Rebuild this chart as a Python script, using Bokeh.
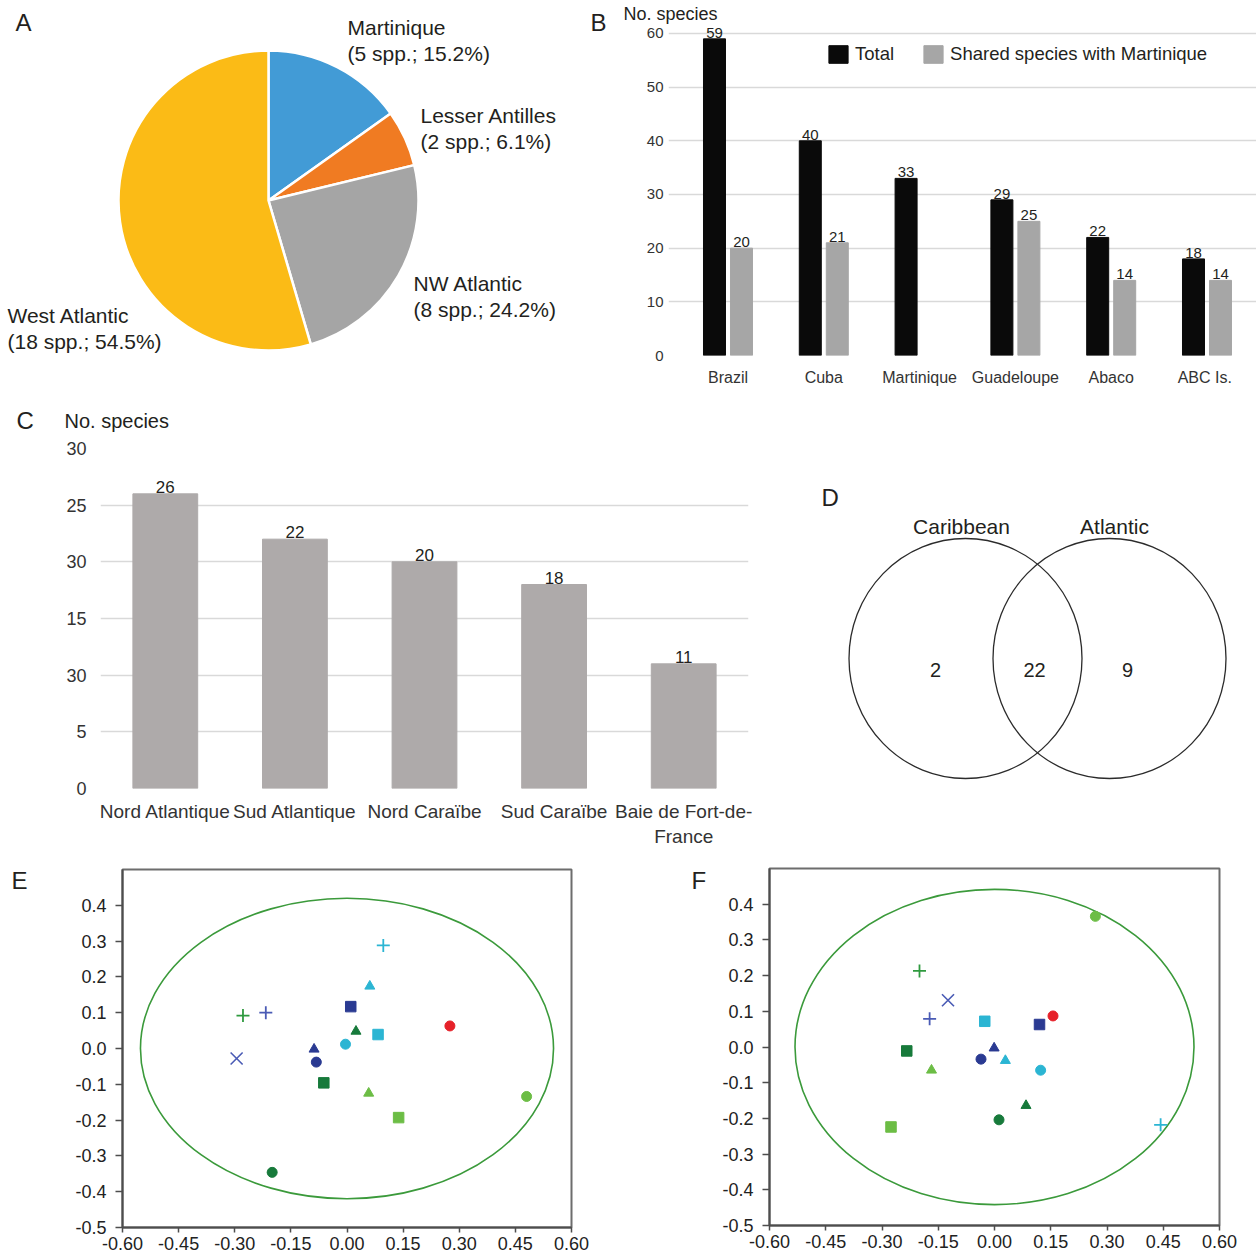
import numpy as np
from bokeh.plotting import figure
from bokeh.models import (Range1d, FixedTicker, PrintfTickFormatter, LabelSet, Label,
                          ColumnDataSource, Legend, LegendItem)
from bokeh.layouts import row, column
from bokeh.embed import file_html
from bokeh.resources import INLINE
from bokeh.core.properties import value

FONT = "Liberation Sans"
INK = "#231f20"

# ---------------- DATA ----------------
# Panel A: origin of species
pie_regions = ["Martinique", "Lesser Antilles", "NW Atlantic", "West Atlantic"]
pie_spp = [5, 2, 8, 18]
pie_pct = [15.2, 6.1, 24.2, 54.5]

# Panel B: species per site
b_sites = ["Brazil", "Cuba", "Martinique", "Guadeloupe", "Abaco", "ABC  Is."]
b_total = [59, 40, 33, 29, 22, 18]
b_shared = [20, 21, None, 25, 14, 14]
b_yticks = [0, 10, 20, 30, 40, 50, 60]

# Panel C: species per Martinique sector
c_regions = ["Nord Atlantique", "Sud Atlantique", "Nord Caraïbe", "Sud Caraïbe",
             "Baie de Fort-de-\nFrance"]
c_species = [26, 22, 20, 18, 11]
c_yticks = [0, 5, 10, 15, 20, 25, 30]
c_ytick_labels = ["0", "5", "30", "15", "30", "25", "30"]

# Panel D: Venn
venn_sets = ["Caribbean", "Atlantic"]
venn_counts = [2, 22, 9]  # Caribbean only, both, Atlantic only

# Panels E/F: ordination scores (17 samples)
e_x = [0.275, 0.480, -0.200, -0.082, -0.004, 0.010, 0.083, -0.062, 0.138,
       -0.088, 0.061, 0.024, 0.058, 0.097, -0.278, -0.217, -0.295]
e_y = [0.063, -0.134, -0.346, -0.038, 0.012, 0.117, 0.039, -0.096, -0.193,
       -0.002, 0.174, 0.048, -0.125, 0.288, 0.092, 0.100, -0.028]
f_x = [0.156, 0.269, 0.012, -0.036, 0.123, 0.120, -0.026, -0.234, -0.276,
       -0.001, 0.029, 0.084, -0.168, 0.443, -0.200, -0.173, -0.124]
f_y = [0.087, 0.366, -0.204, -0.034, -0.065, 0.063, 0.072, -0.011, -0.224,
       -0.003, -0.038, -0.164, -0.065, -0.218, 0.213, 0.079, 0.131]
e_ellipse = (1.104, 0.839)
f_ellipse = (1.064, 0.883)
pca_xticks = [-0.6, -0.45, -0.3, -0.15, 0.0, 0.15, 0.3, 0.45, 0.6]
pca_yticks = [-0.5, -0.4, -0.3, -0.2, -0.1, 0.0, 0.1, 0.2, 0.3, 0.4]

# ---------------- STYLES ----------------
pie_colors = ["#429bd6", "#f07b22", "#a5a5a5", "#fbbb16"]
RED, LGREEN, DGREEN, NAVY, CYAN = "#e62129", "#6cbd45", "#177a3b", "#2a3a92", "#2bb5d3"
GREEN, BLUE = "#2f9a3f", "#4a5bb5"
pca_marker = ["circle"] * 5 + ["square"] * 4 + ["triangle"] * 4 + ["cross"] * 3 + ["x"]
pca_color = [RED, LGREEN, DGREEN, NAVY, CYAN, NAVY, CYAN, DGREEN, LGREEN,
             NAVY, CYAN, DGREEN, LGREEN, CYAN, GREEN, BLUE, BLUE]
msize = {"circle": 10, "square": 10.5, "triangle": 10, "cross": 13, "x": 17}
mlw = {"circle": 1, "square": 1, "triangle": 1, "cross": 1.8, "x": 1.6}


def make_fig(w, h, xr, yr, left=0, right=0, top=0, bottom=0, axes=True):
    kw = {}
    if not axes:
        kw = dict(x_axis_location=None, y_axis_location=None)
    p = figure(width=w, height=h, x_range=xr, y_range=yr, output_backend="svg",
               toolbar_location=None, min_border_left=left, min_border_right=right,
               min_border_top=top, min_border_bottom=bottom, **kw)
    try:
        p.frame_align = False
    except AttributeError:
        pass
    p.background_fill_color = "white"
    p.border_fill_color = "white"
    p.outline_line_color = None
    p.xgrid.visible = False
    p.ygrid.visible = False
    return p


def text_label(p, x, y, t, size, place="center", align="left"):
    lab = Label(x=x, y=y, text=t, text_font=FONT, text_font_size=size,
                text_color=INK, text_align=align, text_baseline="middle")
    p.add_layout(lab, place)


# ---------------- PANEL A (ref box x 0-590, y 0-400) ----------------
pA = make_fig(590, 400, Range1d(0, 590), Range1d(0, 400), axes=False)


def A(xr, yr):
    return xr, 400 - yr


frac = np.array(pie_spp) / np.sum(pie_spp)
cum = np.concatenate([[0.0], np.cumsum(frac)])
srcA = ColumnDataSource(dict(start=np.pi / 2 - 2 * np.pi * cum[1:],
                             end=np.pi / 2 - 2 * np.pi * cum[:-1],
                             color=pie_colors))
cx, cy = A(268, 200)
pA.wedge(x=cx, y=cy, radius=150, radius_units="screen", start_angle="start",
         end_angle="end", direction="anticlock", fill_color="color",
         line_color="white", line_width=2.5, source=srcA)
anchors = [A(347, 27), A(420, 115), A(413, 283), A(7, 315)]
line_gap = 26
pA.text(x=[a[0] for a in anchors], y=[a[1] for a in anchors], text=pie_regions,
        text_font=value(FONT), text_font_size="21px", text_color=INK,
        text_align="left", text_baseline="middle")
pA.text(x=[a[0] for a in anchors], y=[a[1] - line_gap for a in anchors],
        text=[f"({n} spp.; {v}%)" for n, v in zip(pie_spp, pie_pct)],
        text_font=value(FONT), text_font_size="21px", text_color=INK,
        text_align="left", text_baseline="middle")
lx, ly = A(15, 22)
text_label(pA, lx, ly, "A", "24px")

# ---------------- PANEL B (ref box x 590-1256, y 0-400) ----------------
B_PX = 95.8
B_X0 = -0.621
B_Y_PX = 5.367
B_LEFT, B_TOP, B_BOTTOM = 78, 22, 45
pB = make_fig(666, 400, Range1d(B_X0, B_X0 + (666 - B_LEFT) / B_PX),
              Range1d(0, (400 - B_BOTTOM - B_TOP) / B_Y_PX),
              left=B_LEFT, right=0, top=B_TOP, bottom=B_BOTTOM)
pB.ygrid.visible = True
pB.ygrid.grid_line_color = "#d9d9d9"
pB.ygrid.grid_line_width = 1.5
pB.ygrid.ticker = FixedTicker(ticks=b_yticks)
pB.yaxis.ticker = FixedTicker(ticks=b_yticks)
pB.xaxis.ticker = FixedTicker(ticks=list(range(len(b_sites))))
pB.xaxis.major_label_overrides = {i: s for i, s in enumerate(b_sites)}
for ax in (pB.xaxis, pB.yaxis):
    ax.axis_line_color = None
    ax.major_tick_line_color = None
    ax.minor_tick_line_color = None
    ax.major_tick_out = 0
    ax.major_tick_in = 0
    ax.major_label_text_font = FONT
    ax.major_label_text_color = "#333333"
pB.yaxis.major_label_text_font_size = "15px"
pB.yaxis.major_label_standoff = 5
pB.xaxis.major_label_text_font_size = "16px"
pB.xaxis.major_label_standoff = 13

off = 13.5 / B_PX
bw = 22 / B_PX
idx = list(range(len(b_sites)))
srcT = ColumnDataSource(dict(x=[i - off for i in idx], top=b_total,
                             lab=[str(v) for v in b_total]))
sh_i = [i for i in idx if b_shared[i] is not None]
srcS = ColumnDataSource(dict(x=[i + off for i in sh_i], top=[b_shared[i] for i in sh_i],
                             lab=[str(b_shared[i]) for i in sh_i]))
rT = pB.vbar(x="x", top="top", width=bw, bottom=0, fill_color="#0a0a0a",
             line_color="#0a0a0a", source=srcT)
rS = pB.vbar(x="x", top="top", width=bw, bottom=0, fill_color="#a6a6a6",
             line_color="#a6a6a6", source=srcS)
for s in (srcT, srcS):
    pB.add_layout(LabelSet(x="x", y="top", text="lab", source=s, text_align="center",
                           text_baseline="bottom", y_offset=1, text_font=value(FONT),
                           text_font_size="15px", text_color=INK))
legB = Legend(items=[LegendItem(label="Total", renderers=[rT]),
                     LegendItem(label="Shared species with Martinique", renderers=[rS])],
              orientation="horizontal", location=(826 - 668, 355 - 65), glyph_width=24,
              glyph_height=22, label_height=22, label_standoff=5, spacing=27, padding=0,
              margin=0, border_line_color=None, background_fill_alpha=0,
              label_text_font=FONT, label_text_font_size="18.5px", label_text_color=INK)
pB.add_layout(legB)


def Bxy(xr, yr):
    return B_X0 + (xr - 668) / B_PX, (355 - yr) / B_Y_PX


bx, by = Bxy(590, 22)
text_label(pB, bx, by, "B", "24px", place="left")
tx, ty = Bxy(623, 13)
text_label(pB, tx, ty, "No. species", "18px", place="above")

# ---------------- PANEL C (ref box x 0-780, y 400-860) ----------------
C_PX = 129.6
C_Y_PX = 340 / 30
pC = make_fig(780, 460, Range1d(-0.5, 4.5), Range1d(0, 30), left=100, right=32,
              top=48, bottom=72)
pC.ygrid.visible = True
pC.ygrid.grid_line_color = "#d9d9d9"
pC.ygrid.grid_line_width = 1.5
pC.ygrid.ticker = FixedTicker(ticks=c_yticks)
pC.yaxis.ticker = FixedTicker(ticks=c_yticks)
pC.yaxis.major_label_overrides = {v: s for v, s in zip(c_yticks, c_ytick_labels)}
pC.xaxis.ticker = FixedTicker(ticks=list(range(len(c_regions))))
pC.xaxis.major_label_overrides = {i: s for i, s in enumerate(c_regions)}
for ax in (pC.xaxis, pC.yaxis):
    ax.axis_line_color = None
    ax.major_tick_line_color = None
    ax.minor_tick_line_color = None
    ax.major_tick_out = 0
    ax.major_tick_in = 0
    ax.major_label_text_font = FONT
    ax.major_label_text_color = "#333333"
pC.yaxis.major_label_text_font_size = "18px"
pC.xaxis.major_label_text_font_size = "19px"
pC.yaxis.major_label_standoff = 14
pC.xaxis.major_label_standoff = 12
srcC = ColumnDataSource(dict(x=list(range(len(c_regions))), top=c_species,
                             lab=[str(v) for v in c_species]))
pC.vbar(x="x", top="top", width=0.5, bottom=0, fill_color="#aeaaaa",
        line_color="#aeaaaa", source=srcC)
pC.add_layout(LabelSet(x="x", y="top", text="lab", source=srcC, text_align="center",
                       text_baseline="bottom", y_offset=1, text_font=value(FONT),
                       text_font_size="17px", text_color=INK))


def Cxy(xr, yr):
    return -0.5 + (xr - 100) / C_PX, (788 - yr) / C_Y_PX


cxl, cyl = Cxy(16, 420)
text_label(pC, cxl, cyl, "C", "24px", place="left")
nx, ny = Cxy(64, 420)
text_label(pC, nx, ny, "No. species", "20px", place="above")

# ---------------- PANEL D (ref box x 780-1256, y 400-860) ----------------
pD = make_fig(476, 460, Range1d(0, 476), Range1d(0, 460), axes=False)


def D(xr, yr):
    return xr - 780, 860 - yr


c1 = D(965, 658)
c2 = D(1109, 658)
pD.ellipse(x=[c1[0], c2[0]], y=[c1[1], c2[1]], width=233, height=240,
           fill_color=None, line_color="#2b2b2b", line_width=1.3)
t1 = D(961, 526)
t2 = D(1114, 526)
pD.text(x=[t1[0], t2[0]], y=[t1[1], t2[1]], text=venn_sets, text_font=value(FONT),
        text_font_size="21px", text_color=INK, text_align="center", text_baseline="middle")
n1, n2, n3 = D(935, 669), D(1034, 669), D(1127, 669)
pD.text(x=[n1[0], n2[0], n3[0]], y=[n1[1], n2[1], n3[1]],
        text=[str(v) for v in venn_counts], text_font=value(FONT),
        text_font_size="20px", text_color=INK, text_align="center", text_baseline="middle")
dx, dy = D(821, 497)
text_label(pD, dx, dy, "D", "24px")


# ---------------- PANELS E / F (ref y 860-1256) ----------------
def make_pca(w, left, right, top, bottom, xs, ys, ell, let, let_ref_x, ref_left):
    p = make_fig(w, 396, Range1d(-0.6, 0.6), Range1d(-0.5, 0.5), left=left, right=right,
                 top=top, bottom=bottom)
    p.outline_line_color = "#6d6d6d"
    p.outline_line_width = 2
    p.outline_line_alpha = 1
    p.xaxis.ticker = FixedTicker(ticks=pca_xticks)
    p.xaxis.formatter = PrintfTickFormatter(format="%.2f")
    p.yaxis.ticker = FixedTicker(ticks=pca_yticks)
    p.yaxis.formatter = PrintfTickFormatter(format="%.1f")
    for ax in (p.xaxis, p.yaxis):
        ax.axis_line_color = "#4d4d4d"
        ax.axis_line_width = 2
        ax.major_tick_line_color = "#4d4d4d"
        ax.major_tick_line_width = 1.5
        ax.major_tick_in = 0
        ax.minor_tick_line_color = None
        ax.major_label_text_font = FONT
        ax.major_label_text_font_size = "18px"
        ax.major_label_text_color = "#222222"
    p.yaxis.major_tick_out = 7
    p.yaxis.major_label_standoff = 9
    p.xaxis.major_tick_out = 5
    p.xaxis.major_label_standoff = 4
    p.ellipse(x=0, y=0, width=ell[0], height=ell[1], fill_color=None,
              line_color="#3b9a3b", line_width=1.6)
    src = ColumnDataSource(dict(x=xs, y=ys, marker=pca_marker, color=pca_color,
                                size=[msize[m] for m in pca_marker],
                                lw=[mlw[m] for m in pca_marker]))
    p.scatter(x="x", y="y", marker="marker", size="size", fill_color="color",
              line_color="color", line_width="lw", source=src)
    xpx = (w - left - right) / 1.2
    ypx = (396 - top - bottom) / 1.0
    lx = -0.6 + (let_ref_x - ref_left) / xpx
    ly = 0.5 - (880 - 860 - top) / ypx
    text_label(p, lx, ly, let, "24px", place="left")
    return p


pE = make_pca(680, 122, 109, 9, 29, e_x, e_y, e_ellipse, "E", 11, 122)
pF = make_pca(576, 89, 37, 8, 31, f_x, f_y, f_ellipse, "F", 691, 769)

layout = column(row(pA, pB), row(pC, pD), row(pE, pF))
open("out.html", "w").write(file_html(layout, INLINE))
